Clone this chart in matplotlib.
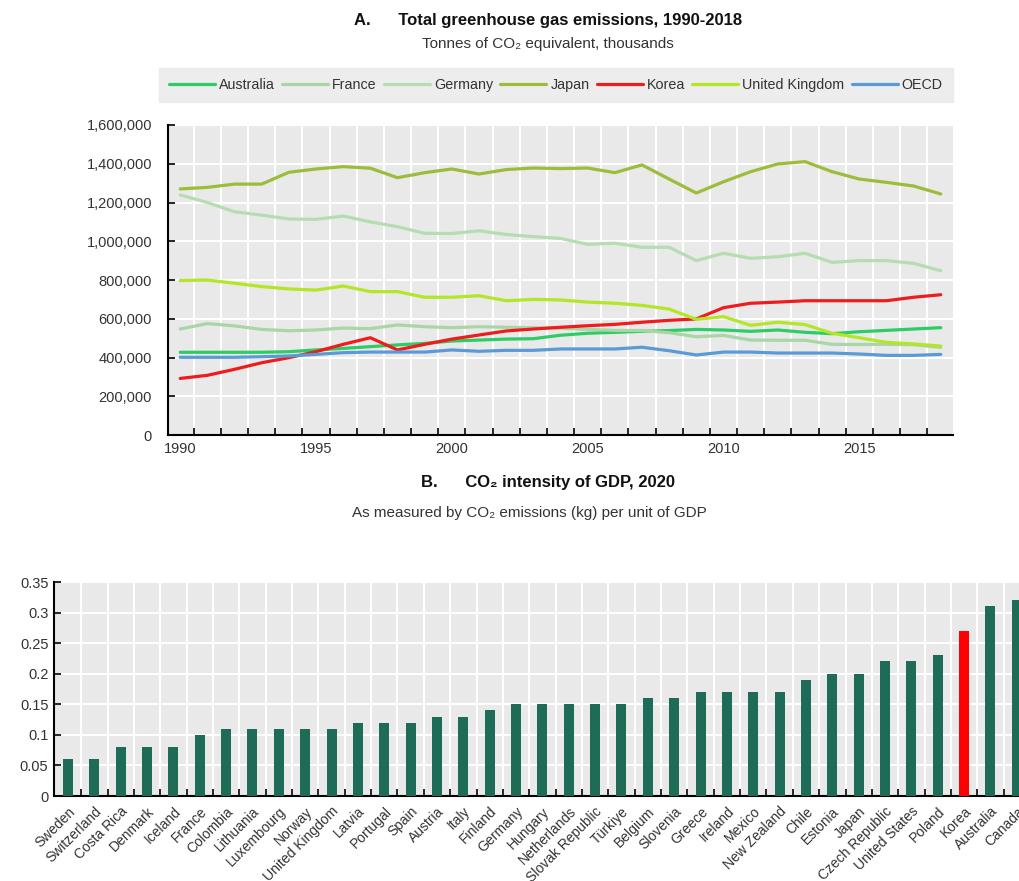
import matplotlib
matplotlib.use("Agg")
import matplotlib.pyplot as plt
from matplotlib.ticker import FuncFormatter, FixedLocator, MultipleLocator

plt.rcParams['font.family'] = ['Liberation Sans Narrow', 'Liberation Sans', 'DejaVu Sans']

# ---------------- Panel A data (thousand tonnes CO2 eq., shown in thousands) ----------------
years = list(range(1990, 2019))
australia = [427, 427, 427, 427, 430, 439, 447, 456, 465, 473, 485, 490, 495, 497, 515,
             525, 530, 535, 539, 545, 542, 535, 542, 530, 523, 533, 540, 547, 554]
france = [547, 575, 563, 545, 538, 542, 552, 549, 568, 559, 554, 559, 556, 554, 551,
          545, 540, 539, 528, 507, 514, 490, 489, 489, 468, 467, 468, 466, 452]
germany = [1239, 1200, 1152, 1135, 1115, 1113, 1130, 1100, 1075, 1041, 1040, 1054, 1035, 1024, 1015,
           984, 990, 969, 969, 900, 938, 912, 920, 938, 891, 900, 900, 886, 848]
japan = [1270, 1278, 1295, 1295, 1356, 1373, 1385, 1377, 1328, 1354, 1373, 1347, 1370, 1378, 1375,
         1378, 1354, 1394, 1321, 1249, 1307, 1359, 1399, 1411, 1359, 1321, 1304, 1285, 1244]
korea = [292, 308, 339, 373, 399, 430, 468, 502, 439, 468, 495, 516, 537, 547, 556,
         564, 571, 582, 592, 599, 657, 680, 686, 693, 693, 693, 693, 711, 724]
uk = [797, 800, 783, 766, 754, 748, 769, 740, 740, 711, 711, 719, 693, 700, 697,
      686, 680, 669, 650, 597, 611, 566, 582, 570, 525, 502, 478, 470, 459]
oecd = [401, 401, 401, 404, 408, 416, 425, 428, 428, 428, 439, 432, 437, 437, 444,
        444, 444, 453, 435, 413, 428, 428, 423, 423, 423, 418, 411, 411, 416]

series_names = ["Australia", "France", "Germany", "Japan", "Korea", "United Kingdom", "OECD"]
series_values = [australia, france, germany, japan, korea, uk, oecd]
series_colors = ["#2dcc64", "#a9d6a6", "#b6dcb2", "#9cbc3a", "#ee1c1c", "#b2e627", "#5b9bd5"]

# ---------------- Panel B data ----------------
countries = ["Sweden", "Switzerland", "Costa Rica", "Denmark", "Iceland", "France", "Colombia",
             "Lithuania", "Luxembourg", "Norway", "United Kingdom", "Latvia", "Portugal", "Spain",
             "Austria", "Italy", "Finland", "Germany", "Hungary", "Netherlands", "Slovak Republic",
             "Türkiye", "Belgium", "Slovenia", "Greece", "Ireland", "Mexico", "New Zealand", "Chile",
             "Estonia", "Japan", "Czech Republic", "United States", "Poland", "Korea", "Australia",
             "Canada"]
intensity = [0.06, 0.06, 0.08, 0.08, 0.08, 0.10, 0.11, 0.11, 0.11, 0.11, 0.11, 0.12, 0.12, 0.12,
             0.13, 0.13, 0.14, 0.15, 0.15, 0.15, 0.15, 0.15, 0.16, 0.16, 0.17, 0.17, 0.17, 0.17,
             0.19, 0.20, 0.20, 0.22, 0.22, 0.23, 0.27, 0.31, 0.32]
highlight = "Korea"

BG = "#e9e9e9"
TXT = "#333333"

W, H = 1019, 881
fig = plt.figure(figsize=(W / 100, H / 100), dpi=100)

def px_axes(x0, y0, x1, y1):
    return fig.add_axes([x0 / W, 1 - y1 / H, (x1 - x0) / W, (y1 - y0) / H])

# ================= Panel A =================
axA = px_axes(168, 125, 953, 435)
axA.set_facecolor(BG)
for name, vals, col in zip(series_names, series_values, series_colors):
    axA.plot(years, [v * 1000 for v in vals], color=col, lw=2.3, label=name,
             solid_capstyle='round', zorder=3)

axA.set_xlim(1989.55, 2018.45)
axA.set_ylim(0, 1600000)
axA.yaxis.set_major_locator(MultipleLocator(200000))
axA.yaxis.set_major_formatter(FuncFormatter(lambda v, p: f"{v:,.0f}"))
axA.xaxis.set_major_locator(FixedLocator([1990, 1995, 2000, 2005, 2010, 2015]))
axA.xaxis.set_minor_locator(FixedLocator([y + 0.5 for y in years[:-1]]))
axA.tick_params(axis='x', which='major', length=0, labelsize=10.5, colors=TXT, pad=5)
axA.tick_params(axis='x', which='minor', direction='in', length=5, width=1.2, color='black')
axA.tick_params(axis='y', which='major', direction='in', length=5, width=1.2, color='black',
                labelsize=10.5, labelcolor=TXT, pad=11.5)
axA.grid(True, axis='y', which='major', color='white', lw=1.5, zorder=1)
axA.grid(True, axis='x', which='minor', color='white', lw=1.5, zorder=1)
axA.set_axisbelow(True)
for s in ['top', 'right']:
    axA.spines[s].set_visible(False)
for s in ['left', 'bottom']:
    axA.spines[s].set_linewidth(1.5)
    axA.spines[s].set_color('black')

handles, labels = axA.get_legend_handles_labels()
leg = fig.legend(handles, labels, loc='center', bbox_to_anchor=(556 / W, 1 - 85 / H), ncol=7,
                 frameon=True, fontsize=10.3, handlelength=3.2, handletextpad=0.3,
                 columnspacing=0.5, borderpad=0.7, fancybox=False)
leg.get_frame().set_facecolor(BG)
leg.get_frame().set_edgecolor(BG)
for t in leg.get_texts():
    t.set_color(TXT)

fig.text(548 / W, 1 - 20 / H, "A.      Total greenhouse gas emissions, 1990-2018",
         ha='center', va='center', fontsize=12, fontweight='bold', color='#111111')
fig.text(548 / W, 1 - 44 / H, "Tonnes of CO\u2082 equivalent, thousands",
         ha='center', va='center', fontsize=11, color=TXT)

# ================= Panel B =================
axB = px_axes(54, 582, 1030, 796)
axB.set_facecolor(BG)
xpos = list(range(len(countries)))
colors = ["#ff0000" if c == highlight else "#1e6b58" for c in countries]
axB.bar(xpos, intensity, width=0.38, color=colors, zorder=3)
axB.set_xlim(-0.53, len(countries) - 0.5)
axB.set_ylim(0, 0.35)
axB.yaxis.set_major_locator(MultipleLocator(0.05))
axB.yaxis.set_major_formatter(FuncFormatter(lambda v, p: "0" if abs(v) < 1e-9 else f"{v:.2f}".rstrip('0')))
axB.set_xticks(xpos)
axB.set_xticklabels(countries, rotation=45, ha='right', rotation_mode='anchor',
                    fontsize=10, color=TXT)
axB.xaxis.set_minor_locator(FixedLocator([i + 0.5 for i in xpos]))
axB.tick_params(axis='x', which='major', length=0, pad=6)
axB.tick_params(axis='x', which='minor', direction='in', length=5, width=1.2, color='black')
axB.tick_params(axis='y', which='major', direction='in', length=5, width=1.2, color='black',
                labelsize=10.5, labelcolor=TXT, pad=4)
axB.grid(True, axis='y', which='major', color='white', lw=1.5, zorder=1)
axB.grid(True, axis='x', which='minor', color='white', lw=1.5, zorder=1)
axB.set_axisbelow(True)
for s in ['top', 'right']:
    axB.spines[s].set_visible(False)
for s in ['left', 'bottom']:
    axB.spines[s].set_linewidth(1.5)
    axB.spines[s].set_color('black')

fig.text(548 / W, 1 - 483 / H, "B.      CO\u2082 intensity of GDP, 2020",
         ha='center', va='center', fontsize=12, fontweight='bold', color='#111111')
fig.text(529 / W, 1 - 513 / H, "As measured by CO\u2082 emissions (kg) per unit of GDP",
         ha='center', va='center', fontsize=11, color=TXT)

fig.savefig("out.png", dpi=100, facecolor='white')
